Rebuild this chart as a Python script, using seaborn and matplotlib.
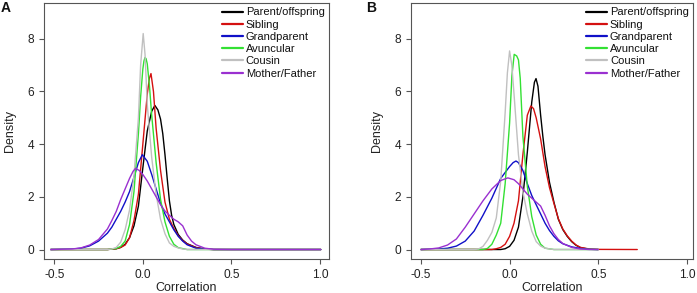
import matplotlib
matplotlib.use("Agg")
import matplotlib.pyplot as plt
from matplotlib.lines import Line2D
import seaborn as sns
import pandas as pd

# ---------------- data ----------------
labels = ["Parent/offspring", "Sibling", "Grandparent", "Avuncular", "Cousin", "Mother/Father"]
colors = ["#000000", "#d41010", "#1010c8", "#33e033", "#c0c0c0", "#9a30d0"]

# Panel A
a_po_x = [-0.52, -0.2, -0.15, -0.125, -0.1, -0.075, -0.05, -0.025, 0.0, 0.025, 0.05, 0.068, 0.085, 0.1, 0.1125, 0.125, 0.1375, 0.15, 0.1625, 0.175, 0.2, 0.225, 0.25, 0.3, 0.35, 0.4, 1.005]
a_po_y = [0, 0, 0.03, 0.08, 0.2, 0.45, 0.9, 1.65, 3.1, 4.5, 5.25, 5.47, 5.3, 4.95, 4.4, 3.6, 2.7, 1.85, 1.3, 0.95, 0.57, 0.36, 0.22, 0.08, 0.02, 0, 0]
a_sib_x = [-0.52, -0.2, -0.15, -0.125, -0.1, -0.075, -0.05, -0.025, 0.0, 0.025, 0.037, 0.046, 0.06, 0.075, 0.1, 0.125, 0.15, 0.175, 0.2, 0.225, 0.25, 0.3, 0.35, 0.4, 1.005]
a_sib_y = [0, 0, 0.03, 0.08, 0.17, 0.45, 1.1, 2.1, 4.0, 5.9, 6.5, 6.68, 6.0, 4.6, 3.0, 1.8, 1.15, 0.8, 0.52, 0.34, 0.21, 0.07, 0.015, 0, 0]
a_gp_x = [-0.52, -0.4, -0.35, -0.3, -0.25, -0.2, -0.175, -0.15, -0.125, -0.1, -0.075, -0.05, -0.025, -0.003, 0.025, 0.05, 0.075, 0.1, 0.125, 0.15, 0.175, 0.2, 0.225, 0.25, 0.3, 0.35, 0.4, 1.005]
a_gp_y = [0, 0.015, 0.05, 0.14, 0.32, 0.62, 0.85, 1.15, 1.45, 1.8, 2.2, 2.75, 3.3, 3.6, 3.35, 2.85, 2.3, 1.75, 1.35, 1.05, 0.75, 0.5, 0.32, 0.18, 0.05, 0.015, 0, 0]
a_av_x = [-0.52, -0.2, -0.15, -0.125, -0.1, -0.075, -0.05, -0.025, -0.0125, 0.0, 0.006, 0.012, 0.018, 0.025, 0.0375, 0.05, 0.075, 0.1, 0.125, 0.15, 0.175, 0.2, 0.25, 1.005]
a_av_y = [0, 0, 0.04, 0.12, 0.32, 0.95, 2.2, 4.4, 5.8, 6.85, 7.15, 7.29, 7.25, 7.05, 6.2, 5.1, 3.3, 1.9, 1.05, 0.5, 0.2, 0.07, 0, 0]
a_co_x = [-0.52, -0.2, -0.175, -0.15, -0.125, -0.1, -0.075, -0.05, -0.025, -0.0125, 0.002, 0.0125, 0.025, 0.05, 0.075, 0.1, 0.125, 0.15, 0.175, 0.2, 0.225, 0.25, 1.005]
a_co_y = [0, 0, 0.02, 0.08, 0.28, 0.75, 1.5, 2.8, 5.0, 7.0, 8.2, 7.4, 5.5, 3.5, 2.1, 1.15, 0.6, 0.25, 0.12, 0.06, 0.02, 0, 0]
a_mf_x = [-0.52, -0.4, -0.35, -0.3, -0.25, -0.2, -0.175, -0.15, -0.125, -0.1, -0.075, -0.055, -0.041, -0.02, 0.0, 0.025, 0.05, 0.075, 0.1, 0.125, 0.15, 0.175, 0.2, 0.225, 0.25, 0.275, 0.3, 0.35, 0.4, 0.5, 1.005]
a_mf_y = [0, 0.02, 0.06, 0.17, 0.38, 0.78, 1.1, 1.45, 1.9, 2.3, 2.7, 2.97, 3.08, 3.0, 2.85, 2.6, 2.3, 2.0, 1.7, 1.46, 1.3, 1.15, 1.05, 0.9, 0.55, 0.32, 0.18, 0.05, 0.01, 0, 0]

# Panel B
b_po_x = [-0.5, -0.05, -0.025, 0.0, 0.025, 0.05, 0.075, 0.1, 0.125, 0.14, 0.149, 0.16, 0.175, 0.1875, 0.2, 0.225, 0.25, 0.275, 0.3, 0.325, 0.35, 0.375, 0.4, 0.45, 0.5]
b_po_y = [0, 0, 0.03, 0.12, 0.35, 0.85, 2.0, 3.7, 5.6, 6.35, 6.49, 6.2, 5.1, 4.3, 3.6, 2.55, 1.8, 1.15, 0.76, 0.5, 0.3, 0.16, 0.07, 0.01, 0]
b_sib_x = [-0.5, -0.1, -0.075, -0.05, -0.025, 0.0, 0.025, 0.05, 0.075, 0.1, 0.12, 0.135, 0.15, 0.175, 0.2, 0.225, 0.25, 0.275, 0.3, 0.325, 0.35, 0.375, 0.4, 0.45, 0.5, 0.72]
b_sib_y = [0, 0, 0.03, 0.08, 0.2, 0.5, 1.0, 1.85, 3.6, 5.1, 5.45, 5.35, 5.0, 4.2, 3.15, 2.35, 1.75, 1.17, 0.78, 0.52, 0.32, 0.17, 0.08, 0.02, 0.005, 0]
b_gp_x = [-0.5, -0.4, -0.35, -0.3, -0.25, -0.2, -0.15, -0.1, -0.05, 0.0, 0.02, 0.036, 0.05, 0.075, 0.1, 0.125, 0.15, 0.175, 0.2, 0.225, 0.25, 0.275, 0.3, 0.35, 0.4, 0.45, 0.5]
b_gp_y = [0, 0.02, 0.05, 0.13, 0.32, 0.7, 1.3, 1.95, 2.7, 3.15, 3.3, 3.36, 3.3, 3.0, 2.5, 2.05, 1.7, 1.35, 1.0, 0.72, 0.5, 0.33, 0.22, 0.1, 0.04, 0.01, 0]
b_av_x = [-0.5, -0.15, -0.125, -0.1, -0.075, -0.05, -0.025, 0.0, 0.013, 0.026, 0.04, 0.05, 0.06, 0.075, 0.1, 0.125, 0.15, 0.175, 0.2, 0.25, 0.5]
b_av_y = [0, 0, 0.04, 0.2, 0.55, 1.0, 2.5, 4.8, 6.6, 7.41, 7.35, 7.2, 6.5, 4.3, 2.4, 1.25, 0.55, 0.2, 0.05, 0, 0]
b_co_x = [-0.5, -0.2, -0.175, -0.15, -0.125, -0.1, -0.075, -0.05, -0.025, -0.0125, 0.0, 0.0125, 0.025, 0.05, 0.075, 0.1, 0.125, 0.15, 0.175, 0.2, 0.25, 0.5]
b_co_y = [0, 0, 0.02, 0.12, 0.35, 0.65, 1.2, 2.6, 5.2, 6.7, 7.54, 7.0, 5.9, 3.6, 2.2, 1.35, 0.7, 0.3, 0.13, 0.05, 0, 0]
b_mf_x = [-0.5, -0.45, -0.4, -0.35, -0.3, -0.25, -0.2, -0.15, -0.1, -0.05, -0.01, 0.025, 0.05, 0.075, 0.1, 0.125, 0.15, 0.175, 0.2, 0.225, 0.25, 0.275, 0.3, 0.35, 0.4, 0.45, 0.5]
b_mf_y = [0, 0.02, 0.06, 0.17, 0.4, 0.85, 1.35, 1.85, 2.3, 2.62, 2.72, 2.65, 2.5, 2.3, 2.1, 1.95, 1.8, 1.65, 1.3, 0.9, 0.6, 0.38, 0.23, 0.08, 0.02, 0, 0]

x_ticks = [-0.5, 0.0, 0.5, 1.0]
x_ticklabels = ["-0.5", "0.0", "0.5", "1.0"]
y_ticks = [0, 2, 4, 6, 8]
y_ticklabels = ["0", "2", "4", "6", "8"]

panels = {
    "A": list(zip(labels, [a_po_x, a_sib_x, a_gp_x, a_av_x, a_co_x, a_mf_x],
                  [a_po_y, a_sib_y, a_gp_y, a_av_y, a_co_y, a_mf_y])),
    "B": list(zip(labels, [b_po_x, b_sib_x, b_gp_x, b_av_x, b_co_x, b_mf_x],
                  [b_po_y, b_sib_y, b_gp_y, b_av_y, b_co_y, b_mf_y])),
}

# ---------------- figure ----------------
sns.set_theme(style="white")
plt.rcParams["font.family"] = ["Liberation Sans", "DejaVu Sans"]

W, H = 697, 293
fig = plt.figure(figsize=(W / 100, H / 100), dpi=100)

boxes = {"A": (44, 3, 329, 259), "B": (411, 3, 693.3, 259)}
xlims = {"A": (-0.558, 1.051), "B": (-0.556, 1.036)}
letter_x = {"A": 1, "B": 366}

edge = "#555555"
for name, curves in panels.items():
    l, t, r, b = boxes[name]
    ax = fig.add_axes([l / W, 1 - b / H, (r - l) / W, (b - t) / H])
    rows = []
    for lab, xs, ys in curves:
        for xv, yv in zip(xs, ys):
            rows.append({"relationship": lab, "x": xv, "density": yv})
    df = pd.DataFrame(rows)
    for lab, col in zip(labels, colors):
        sub = df[df["relationship"] == lab]
        sns.lineplot(data=sub, x="x", y="density", color=col, lw=1.0,
                     sort=False, estimator=None, ax=ax, legend=False)
    ax.set_xlim(*xlims[name])
    ax.set_ylim(-0.36, 9.36)
    ax.set_xticks(x_ticks)
    ax.set_xticklabels(x_ticklabels)
    ax.set_yticks(y_ticks)
    ax.set_yticklabels(y_ticklabels)
    ax.tick_params(axis="both", which="both", direction="out", length=3.6, width=0.8,
                   color=edge, labelsize=8.6, labelcolor="#222222", pad=3.5,
                   bottom=True, left=True)
    for s in ax.spines.values():
        s.set_color(edge)
        s.set_linewidth(0.8)
        s.set_visible(True)
    ax.grid(False)
    ax.set_xlabel("Correlation", fontsize=9, color="#222222", labelpad=0.5)
    ax.set_ylabel("Density", fontsize=9, color="#222222", labelpad=8)
    handles = [Line2D([0], [0], color=c, lw=1.6) for c in colors]
    ax.legend(handles, labels, loc="upper right", frameon=False, fontsize=8,
              handlelength=1.9, handletextpad=0.25, labelspacing=0.2,
              borderaxespad=0.1, borderpad=0.3, labelcolor="#111111")
    fig.text(letter_x[name] / W, 1 - 1 / H, name, fontsize=10, fontweight="bold",
             ha="left", va="top", color="#111111")

fig.savefig("out.png", dpi=100)
